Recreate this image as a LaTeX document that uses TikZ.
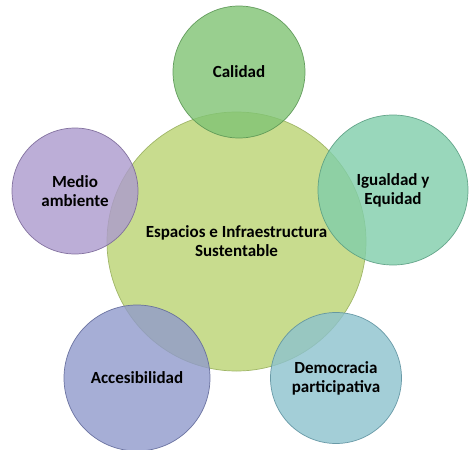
\documentclass[tikz,border=0pt]{standalone}
\usepackage{fontspec}
\setmainfont{Carlito}
\usepackage{tikz}
\usetikzlibrary{positioning}
\definecolor{hubgreen}{RGB}{200,220,142}
\definecolor{hubedge}{RGB}{160,182,104}
\definecolor{calidadgreen}{RGB}{128,196,116}
\definecolor{calidadedge}{RGB}{90,150,84}
\definecolor{equidadmint}{RGB}{128,206,170}
\definecolor{equidadedge}{RGB}{90,158,130}
\definecolor{medioviolet}{RGB}{172,154,206}
\definecolor{medioedge}{RGB}{122,104,152}
\definecolor{accesoblue}{RGB}{144,154,204}
\definecolor{accesoedge}{RGB}{98,106,154}
\definecolor{democraciateal}{RGB}{140,194,206}
\definecolor{democraciaedge}{RGB}{94,146,160}

\begin{document}
\begin{tikzpicture}[x=1pt, y=-1pt,
  bubble/.style={circle, inner sep=0pt, align=center, text=black,
    font=\bfseries\fontsize{17}{19}\selectfont, line width=0.7pt},
  hub/.style={bubble, fill=hubgreen, draw=hubedge},
  petal/.style={bubble, fill opacity=0.8, text opacity=1, draw opacity=0.9}]
  \useasboundingbox[fill=white] (0,0) rectangle (469,450);
  % centre
  \node[hub, minimum size=259pt] (hub) at (236.5,241.5) {Espacios e Infraestructura\\Sustentable};
  % satellites
  \node[petal, fill=calidadgreen, draw=calidadedge, minimum size=132pt] (calidad) at (239,72) {Calidad};
  \node[petal, fill=equidadmint, draw=equidadedge, minimum size=150pt] (equidad) at (393,190) {Igualdad y\\Equidad};
  \node[petal, fill=medioviolet, draw=medioedge, minimum size=126pt] (medio) at (75,191) {Medio\\ambiente};
  \node[petal, fill=accesoblue, draw=accesoedge, minimum size=146pt] (acceso) at (137,378) {Accesibilidad};
  \node[petal, fill=democraciateal, draw=democraciaedge, minimum size=131pt] (democracia) at (336,378) {Democracia\\participativa};
\end{tikzpicture}
\end{document}
